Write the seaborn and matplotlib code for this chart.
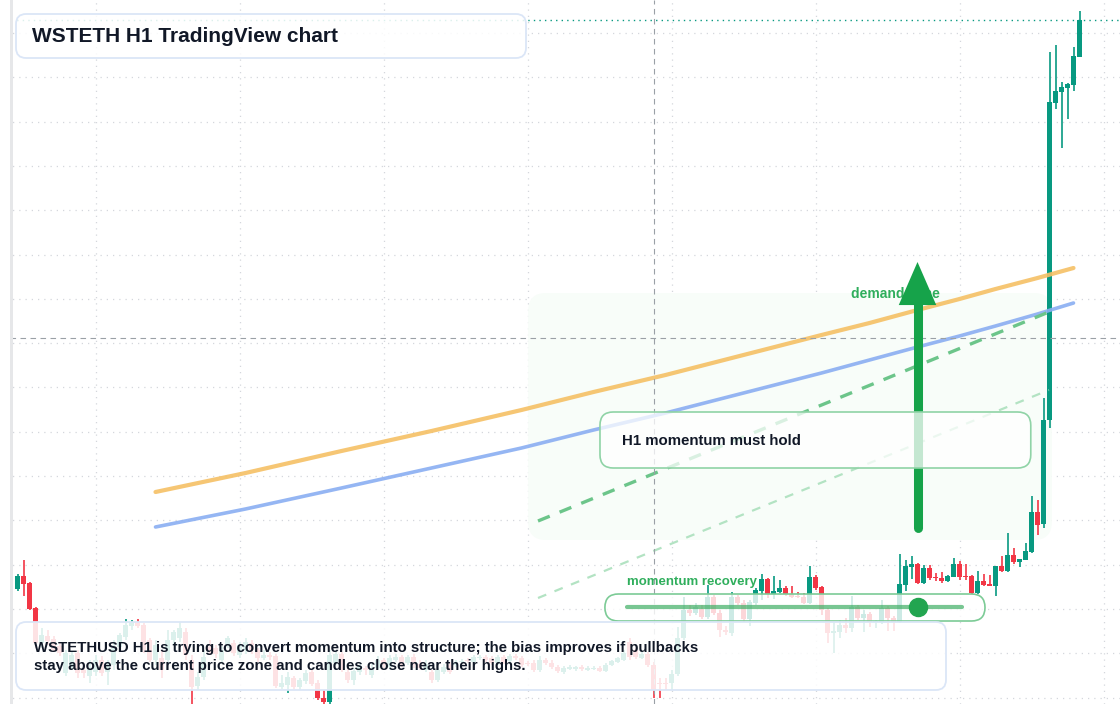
import numpy as np
import matplotlib
matplotlib.use("Agg")
import matplotlib.pyplot as plt
from matplotlib.patches import FancyBboxPatch, Rectangle
import seaborn as sns

# WSTETH H1 candles, oldest first
opens = [
    4111, 4124, 4117, 4092, 4057, 4064, 4061, 4054, 4027, 4033,
    4047, 4030, 4024, 4028, 4040, 4028, 4035, 4053, 4063, 4074,
    4078, 4075, 4060, 4040, 4042, 4040, 4060, 4062, 4068, 4040,
    4014, 4023, 4053, 4052, 4040, 4055, 4057, 4045, 4050, 4057,
    4050, 4042, 4045, 4044, 4013, 4015, 4022, 4013, 4019, 4028,
    4017, 4002, 3998, 4037, 4046, 4028, 4020, 4028, 4032, 4025,
    4032, 4040, 4033, 4040, 4043, 4037, 4043, 4036, 4030, 4028,
    4020, 4028, 4035, 4035, 4038, 4040, 4038, 4042, 4043, 4042,
    4037, 4043, 4039, 4044, 4042, 4037, 4037, 4030, 4040, 4037,
    4033, 4028, 4031, 4031, 4033, 4030, 4031, 4032, 4029, 4035,
    4038, 4040, 4058, 4050, 4042, 4046, 4035, 4017, 4017, 4017,
    4026, 4062, 4090, 4087, 4091, 4083, 4103, 4087, 4070, 4067,
    4103, 4097, 4081, 4097, 4109, 4121, 4106, 4108, 4112, 4106,
    4104, 4103, 4097, 4123, 4113, 4090, 4067, 4068, 4075, 4072,
    4093, 4082, 4086, 4078, 4078, 4092, 4082, 4078, 4115, 4133,
    4136, 4117, 4132, 4123, 4122, 4119, 4123, 4136, 4124, 4124,
    4107, 4119, 4116, 4114, 4134, 4129, 4145, 4138, 4140, 4148,
    4188, 4176, 4280, 4597, 4608, 4612, 4615, 4643,
]
highs = [
    4126, 4140, 4118, 4093, 4072, 4070, 4064, 4058, 4050, 4048,
    4050, 4035, 4040, 4045, 4044, 4040, 4060, 4067, 4081, 4080,
    4081, 4077, 4062, 4060, 4050, 4070, 4070, 4078, 4072, 4045,
    4028, 4050, 4060, 4055, 4054, 4064, 4060, 4058, 4062, 4060,
    4052, 4050, 4048, 4046, 4025, 4028, 4024, 4022, 4030, 4031,
    4020, 4010, 4050, 4050, 4048, 4032, 4032, 4037, 4034, 4038,
    4044, 4042, 4045, 4046, 4045, 4045, 4046, 4040, 4040, 4030,
    4032, 4036, 4038, 4040, 4041, 4042, 4045, 4045, 4045, 4044,
    4045, 4045, 4046, 4046, 4044, 4039, 4040, 4044, 4042, 4040,
    4035, 4034, 4035, 4034, 4035, 4034, 4034, 4034, 4037, 4040,
    4043, 4050, 4062, 4052, 4048, 4048, 4038, 4022, 4022, 4030,
    4073, 4103, 4095, 4097, 4095, 4115, 4105, 4090, 4074, 4108,
    4105, 4100, 4100, 4112, 4126, 4122, 4124, 4120, 4114, 4114,
    4108, 4107, 4134, 4125, 4114, 4092, 4078, 4080, 4082, 4104,
    4095, 4090, 4088, 4080, 4100, 4094, 4084, 4146, 4140, 4144,
    4137, 4135, 4135, 4127, 4128, 4125, 4142, 4139, 4136, 4125,
    4129, 4126, 4125, 4134, 4144, 4167, 4152, 4141, 4157, 4204,
    4200, 4302, 4648, 4655, 4618, 4617, 4653, 4689,
]
lows = [
    4109, 4104, 4090, 4052, 4052, 4055, 4048, 4044, 4024, 4030,
    4022, 4022, 4017, 4024, 4024, 4015, 4030, 4050, 4060, 4070,
    4072, 4047, 4038, 4035, 4022, 4035, 4055, 4058, 4040, 3996,
    4010, 4020, 4045, 4042, 4036, 4052, 4044, 4042, 4046, 4046,
    4038, 4040, 4040, 4012, 4011, 4007, 4011, 4010, 4016, 4014,
    4000, 3996, 3996, 4035, 4028, 4017, 4015, 4025, 4025, 4022,
    4030, 4032, 4030, 4038, 4033, 4035, 4032, 4030, 4028, 4017,
    4018, 4026, 4026, 4033, 4036, 4037, 4036, 4040, 4038, 4035,
    4035, 4036, 4037, 4040, 4033, 4034, 4028, 4028, 4035, 4031,
    4027, 4026, 4030, 4029, 4029, 4029, 4030, 4028, 4028, 4034,
    4037, 4039, 4040, 4041, 4041, 4033, 4002, 4002, 4010, 4010,
    4024, 4060, 4084, 4085, 4081, 4081, 4085, 4063, 4065, 4064,
    4095, 4078, 4074, 4095, 4100, 4102, 4101, 4107, 4104, 4102,
    4102, 4096, 4096, 4110, 4085, 4057, 4047, 4062, 4067, 4068,
    4080, 4068, 4073, 4072, 4076, 4069, 4069, 4077, 4109, 4121,
    4116, 4116, 4120, 4119, 4117, 4118, 4123, 4120, 4120, 4106,
    4106, 4114, 4114, 4104, 4128, 4128, 4136, 4133, 4140, 4147,
    4165, 4172, 4272, 4591, 4552, 4581, 4609, 4643,
]
closes = [
    4124, 4116, 4091, 4057, 4065, 4059, 4050, 4047, 4047, 4045,
    4027, 4027, 4032, 4040, 4027, 4035, 4052, 4065, 4075, 4078,
    4074, 4050, 4040, 4055, 4030, 4060, 4068, 4072, 4045, 4013,
    4023, 4043, 4050, 4046, 4050, 4062, 4047, 4055, 4058, 4050,
    4042, 4045, 4043, 4014, 4017, 4023, 4013, 4020, 4027, 4016,
    4002, 3998, 4045, 4046, 4030, 4020, 4029, 4034, 4030, 4032,
    4040, 4035, 4042, 4043, 4035, 4043, 4035, 4032, 4036, 4020,
    4030, 4033, 4028, 4038, 4039, 4039, 4043, 4043, 4040, 4037,
    4043, 4038, 4044, 4042, 4035, 4036, 4030, 4040, 4037, 4033,
    4029, 4032, 4033, 4033, 4031, 4032, 4032, 4029, 4035, 4039,
    4042, 4047, 4043, 4043, 4046, 4035, 4010, 4016, 4016, 4026,
    4062, 4090, 4087, 4093, 4083, 4103, 4087, 4070, 4068, 4103,
    4097, 4081, 4098, 4110, 4121, 4106, 4109, 4112, 4106, 4103,
    4103, 4097, 4123, 4112, 4090, 4067, 4069, 4075, 4072, 4093,
    4082, 4086, 4078, 4079, 4092, 4082, 4078, 4116, 4134, 4136,
    4117, 4132, 4122, 4122, 4119, 4124, 4136, 4123, 4123, 4107,
    4119, 4115, 4114, 4134, 4129, 4145, 4138, 4141, 4149, 4188,
    4175, 4280, 4598, 4609, 4613, 4616, 4644, 4680,
]

# moving averages, read at a few bars
ma_idx = [23, 38, 54, 69, 84, 96, 108, 121, 134, 142, 150, 157, 163, 170, 176]
ma_fast = [4208, 4227, 4249, 4269, 4290, 4308, 4325, 4345, 4365, 4377, 4390, 4401, 4411, 4422, 4432]
ma_slow = [4173, 4191, 4212, 4232, 4252, 4270, 4287, 4307, 4327, 4340, 4353, 4364, 4374, 4386, 4397]

# rising channel drawn on the chart
chan_idx = [86.75, 171.9]
chan_upper = [4179, 4388]
chan_lower = [4102, 4310]

# annotations (bar index / price)
zone_start, zone_end = 85.1, 172.4
zone_low, zone_high = 4160, 4407
arrow_idx, arrow_from, arrow_to = 150, 4172, 4438
recovery_start, recovery_end, recovery_level = 101.6, 157.4, 4093
recovery_mark = 150
cross_idx, cross_price = 106, 4362

title = "WSTETH H1 TradingView chart"
note = ("WSTETHUSD H1 is trying to convert momentum into structure; the bias improves if pullbacks\n"
        "stay above the current price zone and candles close near their highs.")

UP = "#089981"
DOWN = "#f23645"
GREEN = "#16a34a"
INK = "#111827"
W, H = 1120, 704

sns.set_theme(style="white")
plt.rcParams["font.family"] = ["Liberation Sans", "DejaVu Sans"]

fig = plt.figure(figsize=(W / 100, H / 100), dpi=100)
ax = fig.add_axes([0, 0, 1, 1])
ax.set_facecolor("white")

idx = np.arange(len(closes))
o, h, l, c = map(np.array, (opens, highs, lows, closes))
colors = np.where(c >= o, UP, DOWN)

# 1 bar = 6 px, 1 price unit = 1 px
ax.set_xlim(-17.5 / 6, (W - 17.5) / 6)
ax.set_ylim(4700 - H, 4700)

ax.set_xticks(np.arange(13, 184, 24))
ax.set_yticks(4667 - 44.3 * np.arange(16))
ax.grid(True, color="#d4d7dc", lw=0.9, linestyle=(0, (1, 4)), zorder=0)
ax.tick_params(length=0, labelbottom=False, labelleft=False)
for s in ax.spines.values():
    s.set_visible(False)
ax.set_axisbelow(True)

# demand zone
ax.add_patch(FancyBboxPatch((zone_start, zone_low), zone_end - zone_start, zone_high - zone_low,
                            boxstyle="round,pad=0,rounding_size=3", mutation_aspect=6,
                            fc="#f8fdf9", ec="none", zorder=1))

# candles
ax.vlines(idx, l, h, colors=colors, lw=1.2, zorder=2)
body = np.maximum(np.abs(c - o), 1.5)
ax.bar(idx, body, bottom=np.minimum(o, c), width=0.85, color=colors, lw=0, zorder=2.1)

# moving averages
sns.lineplot(x=ma_idx, y=ma_fast, ax=ax, color="#f5c065", lw=3, alpha=0.9, zorder=3)
sns.lineplot(x=ma_idx, y=ma_slow, ax=ax, color="#8aaef2", lw=2.6, alpha=0.9, zorder=3)

# channel
ax.plot(chan_idx, chan_upper, color="#6cc58a", lw=2.4, dashes=(3.8, 3.2), zorder=3)
ax.plot(chan_idx, chan_lower, color="#b3e3c3", lw=1.6, dashes=(4, 4), zorder=3)

# crosshair + last price
ax.axvline(cross_idx, color="#9aa0a6", lw=0.8, dashes=(5, 4), zorder=3.5)
ax.axhline(cross_price, color="#9aa0a6", lw=0.8, dashes=(5, 4), zorder=3.5)
ax.axhline(closes[-1], color=UP, lw=1, linestyle=(0, (1, 3)), zorder=3.5)

ax.text(138.9, zone_high - 1, "demand zone", color="#2fae5c", fontsize=10,
        fontweight="bold", va="center", ha="left", zorder=4)

# arrow
ax.plot([arrow_idx, arrow_idx], [arrow_from, arrow_to - 40], color=GREEN, lw=6.5,
        solid_capstyle="round", zorder=5)
ax.annotate("", xy=(arrow_idx, arrow_to), xytext=(arrow_idx, arrow_to - 60),
            arrowprops=dict(arrowstyle="-|>,head_length=31,head_width=13.5", lw=0,
                            mutation_scale=1, color=GREEN, shrinkA=0, shrinkB=0),
            zorder=5)

# momentum box
ax.add_patch(FancyBboxPatch((97.08, 4232), 71.8, 56,
                            boxstyle="round,pad=0,rounding_size=2.2", mutation_aspect=6,
                            fc="white", alpha=0.75, ec="none", zorder=6))
ax.add_patch(FancyBboxPatch((97.08, 4232), 71.8, 56,
                            boxstyle="round,pad=0,rounding_size=2.2", mutation_aspect=6,
                            fc="none", ec="#8fd3a6", lw=1.2, zorder=6.1))
ax.text(100.75, 4259, "H1 momentum must hold", color=INK, fontsize=10.8,
        fontweight="bold", va="center", ha="left", zorder=7)

# momentum recovery pill
ax.add_patch(FancyBboxPatch((97.9, 4079), 63.35, 27,
                            boxstyle="round,pad=0,rounding_size=2.25", mutation_aspect=6,
                            fc="white", alpha=0.8, ec="none", zorder=6))
ax.add_patch(FancyBboxPatch((97.9, 4079), 63.35, 27,
                            boxstyle="round,pad=0,rounding_size=2.25", mutation_aspect=6,
                            fc="none", ec="#7ccb96", lw=1.2, zorder=6.1))
ax.plot([recovery_start, recovery_end], [recovery_level, recovery_level], color="#3fae64",
        lw=3, alpha=0.7, zorder=7)
ax.plot([recovery_mark], [recovery_level], "o", color="#22a550", ms=13, zorder=8)
ax.text(recovery_start, 4118, "momentum recovery", color="#2fae5c", fontsize=9.5,
        fontweight="bold", va="center", ha="left", zorder=7)


def px(x, y):
    return x / W, 1 - y / H


def panel(x0, y0, x1, y1, z):
    fx, fy = px(x0, y1)
    ax.add_patch(FancyBboxPatch((fx, fy), (x1 - x0) / W, (y1 - y0) / H,
                                boxstyle="round,pad=0,rounding_size=0.009",
                                mutation_aspect=W / H, transform=ax.transAxes,
                                fc="white", alpha=0.86, ec="none", zorder=z))
    ax.add_patch(FancyBboxPatch((fx, fy), (x1 - x0) / W, (y1 - y0) / H,
                                boxstyle="round,pad=0,rounding_size=0.009",
                                mutation_aspect=W / H, transform=ax.transAxes,
                                fc="none", ec="#dbe6f7", lw=1.3, zorder=z + 0.1))


panel(16, 622, 946, 690, 9)
ax.text(*px(34, 657), note, transform=ax.transAxes, color=INK, fontsize=10.8,
        fontweight="bold", va="center", ha="left", linespacing=1.4, zorder=10)

panel(16, 14, 526, 58, 9)
ax.text(*px(32, 36), title, transform=ax.transAxes, color=INK, fontsize=15,
        fontweight="bold", va="center", ha="left", zorder=10)

# left edge: blank margin and price scale border
fig.patches.append(Rectangle((0, 0), 10 / W, 1, transform=fig.transFigure,
                             fc="white", ec="none", zorder=20))
fig.patches.append(Rectangle((10 / W, 0), 3 / W, 1, transform=fig.transFigure,
                             fc="#e6e7e9", ec="none", zorder=21))

fig.savefig("out.png", dpi=100)
